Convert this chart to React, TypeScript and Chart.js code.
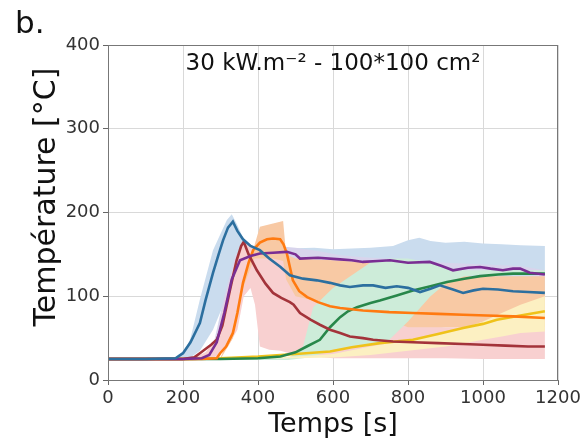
import React, { useEffect, useRef } from "react";
import { Chart, registerables } from "chart.js";
Chart.register(...registerables);

const FONT = '"DejaVu Sans", "Liberation Sans", sans-serif';

// Mean curves
const blueT = [0,100,180,200,220,245,260,280,295,307,320,333,345,360,380,405,430,460,485,520,557,592,619,645,680,707,740,770,800,832,860,885,920,947,975,1000,1040,1080,1120,1165];
const blueV = [25,25,26,32,45,68,95,128,150,167,182,189,178,168,160,155,145,135,125,121,119,116,113,111,113,113,110,112,110,105,109,113,108,104,107,109,108,106,105,104];

const purpleT = [0,200,250,270,290,310,330,352,380,405,440,477,500,512,560,619,650,680,720,752,800,858,890,920,960,992,1020,1053,1080,1099,1125,1165];
const purpleV = [25,25,26,30,45,80,120,143,148,151,152,153,150,145,146,144,143,141,142,143,140,141,136,131,134,135,133,131,133,133,128,126];

const redT = [0,200,230,245,260,275,290,305,325,343,355,362,375,397,420,440,462,485,495,512,540,565,592,619,645,680,707,760,813,880,947,1000,1060,1120,1165];
const redV = [25,25,27,32,37,42,48,65,107,143,160,165,150,131,115,104,98,93,90,80,72,66,60,56,52,50,48,46,45,44,43,42,41,40,40];

const orangeT = [0,250,290,299,315,333,345,360,375,387,405,424,440,459,468,477,485,493,510,531,560,592,619,680,750,813,880,947,1010,1080,1165];
const orangeV = [25,25,26,32,40,56,80,116,140,155,164,168,169,168,162,151,135,119,106,99,93,88,86,83,81,80,79,78,77,76,74];

const greenT = [0,300,400,460,500,530,565,592,619,640,664,700,725,770,813,860,904,950,992,1040,1080,1120,1165];
const greenV = [25,25,26,28,33,40,48,63,75,82,87,92,95,101,107,112,117,121,124,126,127,127,127];

const yellowT = [0,200,300,400,500,592,650,725,813,880,947,1000,1037,1100,1165];
const yellowV = [25,25,26,28,31,34,39,44,48,55,62,67,72,77,82];

// Uncertainty bands
const blueBandT = [0,180,200,220,245,280,317,330,345,360,390,430,480,550,600,650,700,760,800,830,860,900,950,1000,1050,1100,1165];
const blueBandHi = [27,27,30,50,96,155,191,198,185,170,158,155,157,158,156,157,158,160,167,170,166,164,165,163,162,161,160];
const blueBandLo = [23,23,25,27,35,60,100,125,130,125,115,110,100,95,92,90,90,88,86,86,86,86,86,86,86,86,86];

const purpleBandT = [0,250,280,310,340,370,400,450,500,560,620,700,800,900,1000,1100,1165];
const purpleBandHi = [26,27,40,100,150,158,160,160,158,154,149,146,144,140,138,136,131];
const purpleBandLo = [24,25,28,60,125,138,142,145,142,140,139,138,136,130,130,128,122];

const redBandT = [0,230,260,290,320,345,362,380,392,405,430,460,500,550,600,700,800,900,1000,1100,1165];
const redBandHi = [27,27,33,50,110,150,168,160,150,150,150,150,145,135,110,75,65,63,63,63,63];
const redBandLo = [23,23,25,28,40,60,100,110,90,40,36,35,30,28,26,26,26,26,25,25,25];

const orangeBandT = [0,300,333,360,390,405,440,467,475,500,550,600,700,800,900,1000,1100,1165];
const orangeBandHi = [27,27,60,120,160,183,187,190,150,145,144,143,140,130,124,124,124,124];
const orangeBandLo = [23,25,50,110,145,145,145,142,120,100,95,90,80,63,63,63,63,63];

const greenBandT = [0,480,520,547,600,650,699,750,800,860,900,950,1000,1100,1165];
const greenBandHi = [26,26,40,87,110,125,140,145,145,140,134,131,131,131,131];
const greenBandLo = [24,24,26,28,36,40,42,48,70,100,115,124,126,126,126];

const yellowBandT = [0,500,600,700,800,900,950,1000,1050,1100,1165];
const yellowBandHi = [26,28,31,40,48,56,62,70,80,90,100];
const yellowBandLo = [24,26,27,30,35,40,44,48,52,56,58];

const X_MIN = 0, X_MAX = 1200, X_STEP = 200;
const Y_MIN = 0, Y_MAX = 400, Y_STEP = 100;

const pts = (t: number[], v: number[]) => t.map((x, i) => ({ x, y: v[i] }));

const line = (t: number[], v: number[], color: string) => ({
  data: pts(t, v),
  borderColor: color,
  borderWidth: 2.6,
  pointRadius: 0,
  tension: 0,
  fill: false,
  order: 0,
});

const band = (t: number[], hi: number[], lo: number[], color: string) => [
  { data: pts(t, hi), borderWidth: 0, borderColor: "rgba(0,0,0,0)", backgroundColor: color, pointRadius: 0, fill: "+1", order: 1 },
  { data: pts(t, lo), borderWidth: 0, borderColor: "rgba(0,0,0,0)", pointRadius: 0, fill: false, order: 1 },
];

const overlay = {
  id: "overlay",
  afterDraw(chart: any) {
    const { ctx, chartArea: a } = chart;
    ctx.save();
    ctx.strokeStyle = "#777";
    ctx.lineWidth = 1;
    ctx.strokeRect(a.left + 0.5, a.top + 0.5, a.right - a.left - 1, a.bottom - a.top);
    ctx.fillStyle = "#111";
    ctx.textBaseline = "alphabetic";
    ctx.textAlign = "left";
    ctx.font = `31px ${FONT}`;
    ctx.fillText("b.", 15, 33);
    ctx.textAlign = "center";
    ctx.font = `23px ${FONT}`;
    ctx.fillText("30 kW.m⁻² - 100*100 cm²", (a.left + a.right) / 2, 70);
    ctx.translate(47, 197);
    ctx.rotate(-Math.PI / 2);
    ctx.textBaseline = "middle";
    ctx.font = `30px ${FONT}`;
    ctx.fillText("Température [°C]", 0, 0);
    ctx.restore();
  },
};

export default function App() {
  const ref = useRef<HTMLCanvasElement>(null);
  useEffect(() => {
    if (!ref.current) return;
    const chart = new Chart(ref.current, {
      type: "line",
      data: {
        datasets: [
          line(blueT, blueV, "#2c6f9f"),
          line(purpleT, purpleV, "#7a2e93"),
          line(redT, redV, "#a3333a"),
          line(orangeT, orangeV, "#ff7a10"),
          line(greenT, greenV, "#28874a"),
          line(yellowT, yellowV, "#efc21a"),
          ...band(yellowBandT, yellowBandHi, yellowBandLo, "#fcf0c2"),
          ...band(greenBandT, greenBandHi, greenBandLo, "#cdecd9"),
          ...band(orangeBandT, orangeBandHi, orangeBandLo, "#f8c9a4"),
          ...band(redBandT, redBandHi, redBandLo, "#f8d0d0"),
          ...band(purpleBandT, purpleBandHi, purpleBandLo, "#d8d4ec"),
          ...band(blueBandT, blueBandHi, blueBandLo, "#cadcee"),
        ] as any,
      },
      options: {
        responsive: false,
        animation: false,
        layout: { padding: { top: 45, right: 26, left: 0, bottom: 0 } },
        plugins: { legend: { display: false }, tooltip: { enabled: false }, title: { display: false } },
        scales: {
          x: {
            type: "linear",
            min: X_MIN,
            max: X_MAX,
            ticks: { stepSize: X_STEP, font: { family: FONT, size: 18 }, color: "#333", padding: 3, callback: (v: any) => String(v) },
            grid: { color: "#d9d9d9", lineWidth: 1, tickLength: 5, tickColor: "#666" },
            border: { color: "#777", width: 1 },
            title: { display: true, text: "Temps [s]", font: { family: FONT, size: 27 }, color: "#111", padding: { top: 0, bottom: 1 } },
            afterFit: (s: any) => { s.height = 62; },
          },
          y: {
            min: Y_MIN,
            max: Y_MAX,
            ticks: { stepSize: Y_STEP, font: { family: FONT, size: 18 }, color: "#333", padding: 3, callback: (v: any) => String(v) },
            grid: { color: "#d9d9d9", lineWidth: 1, tickLength: 5, tickColor: "#666" },
            border: { color: "#777", width: 1 },
            afterFit: (s: any) => { s.width = 108; },
          },
        },
      } as any,
      plugins: [overlay],
    });
    return () => chart.destroy();
  }, []);
  return (
    <div style={{ position: "absolute", left: 0, top: 0, width: 584, height: 442, background: "#fff" }}>
      <canvas ref={ref} width={584} height={442} style={{ display: "block" }} />
    </div>
  );
}
